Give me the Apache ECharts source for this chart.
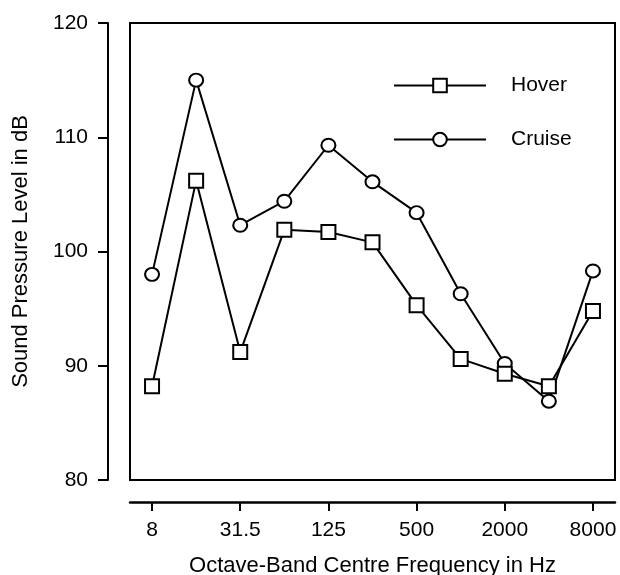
<!DOCTYPE html>
<html>
<head>
<meta charset="utf-8">
<script src="https://cdn.jsdelivr.net/npm/echarts@6/dist/echarts.min.js"></script>
<style>
  html, body { margin: 0; padding: 0; background: #fff; }
  #chart { width: 620px; height: 575px; }
</style>
</head>
<body>
<div id="chart"></div>
<script>
// octave bands
var freqs = ['8', '16', '31.5', '63', '125', '250', '500', '1000', '2000', '4000', '8000'];
var hover = [88.2, 106.2, 91.2, 101.9, 101.7, 100.8, 95.3, 90.6, 89.3, 88.2, 94.8];
var cruise = [98.0, 115.0, 102.3, 104.4, 109.3, 106.1, 103.4, 96.3, 90.2, 86.9, 98.3];
var yTicks = [80, 90, 100, 110, 120];
var labelledBands = [0, 2, 4, 6, 8, 10]; // 8, 31.5, 125, 500, 2000, 8000

var chart = echarts.init(document.getElementById('chart'));
var font = 'Liberation Sans, Arial, sans-serif';

function pairs(arr) {
  return arr.map(function (v, i) { return [i, v]; });
}

var option = {
  backgroundColor: '#fff',
  animation: false,
  grid: {
    left: 130, right: 5, top: 23, bottom: 95,
    outerBoundsMode: 'none',
    containLabel: false,
    show: true,
    borderColor: '#000',
    borderWidth: 2,
    backgroundColor: 'transparent'
  },
  legend: {
    orient: 'vertical',
    left: 388,
    top: 70,
    itemWidth: 92,
    itemHeight: 17,
    itemGap: 33,
    textStyle: { color: '#000', fontSize: 21, lineHeight: 17, fontFamily: font, padding: [0, 0, 0, 20] },
    data: ['Hover', 'Cruise']
  },
  xAxis: {
    type: 'value',
    min: -0.5,
    max: freqs.length - 0.5,
    offset: 22,
    name: 'Octave-Band Centre Frequency in Hz',
    nameLocation: 'middle',
    nameGap: 53,
    nameTextStyle: { color: '#000', fontSize: 22, fontFamily: font },
    axisLine: { show: true, onZero: false, lineStyle: { color: '#000', width: 2.5 } },
    axisTick: { show: true, inside: false, customValues: labelledBands, length: 9, lineStyle: { color: '#000', width: 2 } },
    axisLabel: {
      customValues: labelledBands,
      formatter: function (v) { return freqs[Math.round(v)]; },
      color: '#000', fontSize: 21, fontFamily: font, margin: 18
    },
    splitLine: { show: false }
  },
  yAxis: {
    type: 'value',
    min: yTicks[0],
    max: yTicks[yTicks.length - 1],
    interval: 10,
    offset: 22,
    name: 'Sound Pressure Level in dB',
    nameLocation: 'middle',
    nameGap: 76,
    nameTextStyle: { color: '#000', fontSize: 22, fontFamily: font },
    axisLine: { show: true, onZero: false, lineStyle: { color: '#000', width: 2 } },
    axisTick: { show: true, length: 10, lineStyle: { color: '#000', width: 2 } },
    axisLabel: { color: '#000', fontSize: 21, fontFamily: font, margin: 20 },
    splitLine: { show: false }
  },
  series: [
    {
      name: 'Hover',
      type: 'line',
      data: pairs(hover),
      symbol: 'rect',
      symbolSize: 14,
      lineStyle: { color: '#000', width: 2 },
      itemStyle: { color: '#fff', borderColor: '#000', borderWidth: 2 },
      z: 3
    },
    {
      name: 'Cruise',
      type: 'line',
      data: pairs(cruise),
      symbol: 'circle',
      symbolSize: [14, 13],
      lineStyle: { color: '#000', width: 2 },
      itemStyle: { color: '#fff', borderColor: '#000', borderWidth: 2 },
      z: 2
    }
  ]
};

chart.setOption(option);
</script>
</body>
</html>
